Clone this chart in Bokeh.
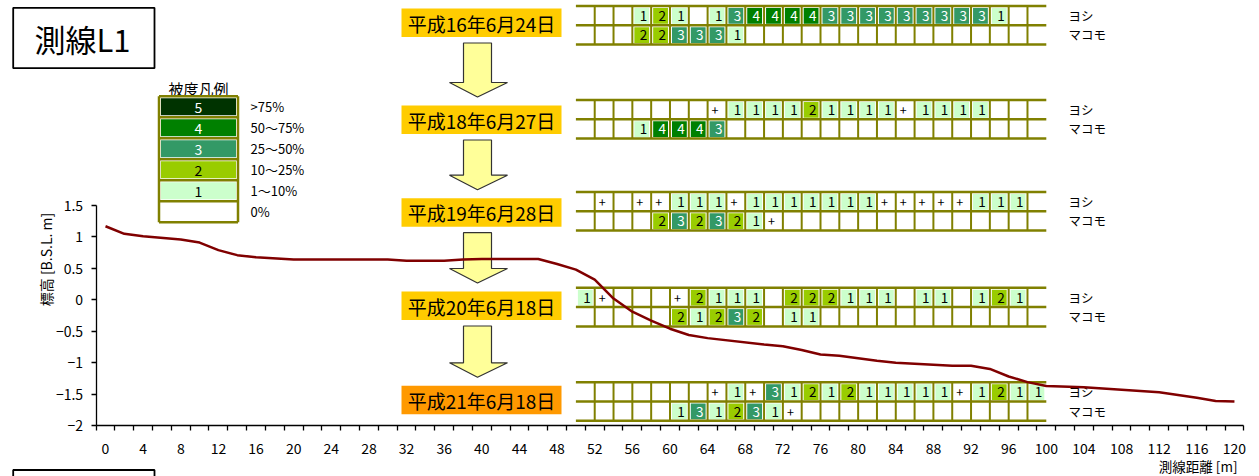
import math
from bokeh.plotting import figure
from bokeh.models import Range1d, LinearAxis, FixedTicker
from bokeh.core.properties import value
from bokeh.embed import file_html
from bokeh.resources import INLINE

# ---------------- data ----------------
# ground profile along survey line L1 (distance [m], elevation [B.S.L. m])
distance_m = [0, 2, 4, 8, 10, 12, 14, 16, 20, 30, 32, 36, 38, 40, 46, 48, 50, 52, 54, 56,
              58, 60, 62, 64, 70, 72, 74, 76, 78, 82, 84, 90, 92, 94, 96, 98, 100, 104, 108, 112,
              116, 118, 120]
elevation_m = [1.17, 1.05, 1.01, 0.96, 0.91, 0.79, 0.71, 0.675, 0.64, 0.64, 0.62, 0.62, 0.64, 0.65,
               0.65, 0.57, 0.48, 0.32, 0.02, -0.19, -0.33, -0.46, -0.56, -0.61, -0.71, -0.74, -0.80,
               -0.87, -0.89, -0.97, -1.0, -1.05, -1.05, -1.10, -1.22, -1.31, -1.37, -1.39, -1.43,
               -1.47, -1.56, -1.61, -1.62]

x_tick_values = list(range(0, 121, 4))
y_tick_values = [-2, -1.5, -1, -0.5, 0, 0.5, 1, 1.5]
y_tick_labels = ["−2", "−1.5", "−1", "−0.5", "0", "0.5", "1", "1.5"]

# vegetation cover class per 2 m cell, 50 m – 100 m ("+" = present, "" = absent)
survey_dates = ["平成16年6月24日", "平成18年6月27日", "平成19年6月28日", "平成20年6月18日", "平成21年6月18日"]
species = ["ヨシ", "マコモ"]

yoshi_h16 = ["", "", "", "1", "2", "1", "", "1", "3", "4", "4", "4", "4", "3", "3", "3", "3", "3",
             "3", "3", "3", "3", "1", "", ""]
makomo_h16 = ["", "", "", "2", "2", "3", "3", "3", "1", "", "", "", "", "", "", "", "", "",
              "", "", "", "", "", "", ""]
yoshi_h18 = ["", "", "", "", "", "", "", "+", "1", "1", "1", "1", "2", "1", "1", "1", "1", "+",
             "1", "1", "1", "1", "", "", ""]
makomo_h18 = ["", "", "", "1", "4", "4", "4", "3", "", "", "", "", "", "", "", "", "", "",
              "", "", "", "", "", "", ""]
yoshi_h19 = ["", "+", "", "+", "+", "1", "1", "1", "+", "1", "1", "1", "1", "1", "1", "1", "+", "+",
             "+", "+", "+", "1", "1", "1", ""]
makomo_h19 = ["", "", "", "", "2", "3", "2", "3", "2", "1", "+", "", "", "", "", "", "", "",
              "", "", "", "", "", "", ""]
yoshi_h20 = ["1", "+", "", "", "", "+", "2", "1", "1", "1", "", "2", "2", "2", "1", "1", "1", "",
             "1", "1", "", "1", "2", "1", ""]
makomo_h20 = ["", "", "", "", "", "2", "1", "2", "3", "2", "", "1", "1", "", "", "", "", "",
              "", "", "", "", "", "", ""]
yoshi_h21 = ["", "", "", "", "", "", "", "+", "1", "+", "3", "1", "2", "1", "2", "1", "1", "1",
             "1", "1", "+", "1", "2", "1", "1"]
makomo_h21 = ["", "", "", "", "", "1", "3", "1", "2", "3", "1", "+", "", "", "", "", "", "",
              "", "", "", "", "", "", ""]

yoshi_rows = [yoshi_h16, yoshi_h18, yoshi_h19, yoshi_h20, yoshi_h21]
makomo_rows = [makomo_h16, makomo_h18, makomo_h19, makomo_h20, makomo_h21]

legend_title = "被度凡例"
legend_classes = ["5", "4", "3", "2", "1", ""]
legend_ranges = [">75%", "50～75%", "25～50%", "10～25%", "1～10%", "0%"]

# ---------------- styles ----------------
FONT = "Noto Sans CJK JP"
cover_fill = {"5": "#003300", "4": "#008000", "3": "#339966", "2": "#99CC00",
              "1": "#CCFFCC", "+": "#FFFFFF", "": "#FFFFFF"}
cover_text = {"5": "white", "4": "white", "3": "white", "2": "black", "1": "black", "+": "black", "": "black"}
OLIVE = "#808000"
LINE_RED = "#800000"
DATE_FILL = ["#FFCC00", "#FFCC00", "#FFCC00", "#FFCC00", "#FF9900"]
ARROW_FILL = "#FFFF99"

# ---------------- canvas geometry ----------------
W, H = 1259, 476
PX_X0 = 105.0        # canvas x of 0 m
PX_PER_M = 9.408
PX_Y_TOP = 205.0     # canvas y of the top of the elevation axis
PX_PER_UNIT = 62.857
Y_TOP = 1.5

p = figure(width=W, height=H,
           x_range=Range1d(-PX_X0 / PX_PER_M, (W - PX_X0) / PX_PER_M),
           y_range=Range1d(Y_TOP - (H - PX_Y_TOP) / PX_PER_UNIT, Y_TOP + PX_Y_TOP / PX_PER_UNIT),
           x_axis_type=None, y_axis_type=None,
           toolbar_location=None, output_backend="svg",
           min_border=0, outline_line_color=None, background_fill_color="white")
p.extra_x_ranges = {"px": Range1d(0, W)}
p.extra_y_ranges = {"py": Range1d(H, 0)}


def text(x, y, s, size, color="black", align="left", baseline="middle", angle=0.0,
         xr="px", x_offset=0):
    p.text(x=x if isinstance(x, list) else [x], y=y if isinstance(y, list) else [y],
           text=s if isinstance(s, list) else [s],
           x_range_name=xr, y_range_name="py",
           text_font=value(FONT), text_font_size=value(f"{size}px"),
           text_color=color, text_align=align, text_baseline=baseline,
           angle=angle, x_offset=x_offset)


# ---------------- axes ----------------
boundaries = [d - 1 for d in range(0, 121, 2)] + [121]
xaxis = LinearAxis(fixed_location=-2,
                   ticker=FixedTicker(ticks=x_tick_values, minor_ticks=boundaries),
                   bounds=(-1, 121),
                   axis_line_color="black", axis_line_width=1.3,
                   major_tick_out=0, major_tick_in=0,
                   minor_tick_out=5, minor_tick_in=0,
                   minor_tick_line_color="black", minor_tick_line_width=1.3,
                   major_label_standoff=13,
                   major_label_text_font=FONT, major_label_text_font_size="14px",
                   major_label_text_color="black")
p.add_layout(xaxis, "below")

yaxis = LinearAxis(fixed_location=-1,
                   ticker=FixedTicker(ticks=y_tick_values, minor_ticks=[]),
                   bounds=(-2, 1.5),
                   axis_line_color="black", axis_line_width=1.3,
                   major_tick_out=5, major_tick_in=0,
                   major_tick_line_color="black", major_tick_line_width=1.3,
                   minor_tick_out=0, minor_tick_in=0,
                   major_label_standoff=8,
                   major_label_overrides={t: lab for t, lab in zip(y_tick_values, y_tick_labels)},
                   major_label_text_font=FONT, major_label_text_font_size="14px",
                   major_label_text_color="black")
p.add_layout(yaxis, "left")

text(45, 259, "標高 [B.S.L. m]", 14, align="center", angle=math.pi / 2)
text(1237, 465, "測線距離 [m]", 13.5, align="right")

# ---------------- title boxes ----------------
p.quad(left=[12.7], right=[154], top=[7.3], bottom=[67.7], x_range_name="px", y_range_name="py",
       fill_color="white", line_color="black", line_width=1.8)
text(82, 38, "測線L1", 31, align="center")
p.quad(left=[12.7], right=[154], top=[469.5], bottom=[495], x_range_name="px", y_range_name="py",
       fill_color="white", line_color="black", line_width=1.8)

# ---------------- legend ----------------
LEG_L, LEG_R, LEG_T, LEG_ROW = 158.5, 237.5, 95.7, 21.0
text((LEG_L + LEG_R) / 2, 87.5, legend_title, 15, align="center")
for i, cls in enumerate(legend_classes):
    t = LEG_T + i * LEG_ROW
    p.quad(left=[LEG_L + 2], right=[LEG_R - 2], top=[t + 2], bottom=[t + LEG_ROW - 2],
           x_range_name="px", y_range_name="py",
           fill_color=cover_fill[cls], line_color=None)
    if cls:
        text((LEG_L + LEG_R) / 2, t + LEG_ROW / 2 + 0.5, cls, 14, color=cover_text[cls], align="center")
    text(250, t + LEG_ROW / 2, legend_ranges[i], 13)
leg_y = [LEG_T + i * LEG_ROW for i in range(len(legend_classes) + 1)]
p.segment(x0=[LEG_L] * len(leg_y), x1=[LEG_R] * len(leg_y), y0=leg_y, y1=leg_y,
          x_range_name="px", y_range_name="py", line_color=OLIVE, line_width=2.5)
p.segment(x0=[LEG_L, LEG_R], x1=[LEG_L, LEG_R], y0=[leg_y[0], leg_y[0]], y1=[leg_y[-1], leg_y[-1]],
          x_range_name="px", y_range_name="py", line_color=OLIVE, line_width=2.5)

# ---------------- survey date boxes and arrows ----------------
BOX_L, BOX_R, BOX_H = 401, 561, 28.5
box_tops = [8, 105, 197.7, 291, 385.3]
for k, date in enumerate(survey_dates):
    t = box_tops[k]
    p.quad(left=[BOX_L], right=[BOX_R], top=[t], bottom=[t + BOX_H],
           x_range_name="px", y_range_name="py", fill_color=DATE_FILL[k], line_color=None)
    text((BOX_L + BOX_R) / 2, t + BOX_H / 2 + 0.5, date, 19, align="center")

SH_L, SH_R, HD_L, HD_R = 463, 491, 449, 507
for k in range(len(survey_dates) - 1):
    st = box_tops[k] + BOX_H + 6
    tip = box_tops[k + 1] - 8.5
    hs = tip - 14.5
    mid = (SH_L + SH_R) / 2
    p.patch(x=[SH_L, SH_R, SH_R, HD_R, mid, HD_L, SH_L],
            y=[st, st, hs, hs, tip, hs, hs],
            x_range_name="px", y_range_name="py",
            fill_color=ARROW_FILL, line_color="#333333", line_width=1.2)

# ---------------- vegetation cover grids ----------------
CELL0_M, CELL_M = 50, 2
grid_tops = [5.5, 99.5, 191.5, 287.3, 381.7]
ROW_H = 19.3
n_cells = len(yoshi_h16)
inset_m = 2.0 / PX_PER_M

for k in range(len(survey_dates)):
    top = grid_tops[k]
    for s, rows in enumerate([yoshi_rows, makomo_rows]):
        row = rows[k]
        rt = top + s * ROW_H
        lefts = [CELL0_M + CELL_M * i for i in range(n_cells)]
        p.quad(left=[l + inset_m for l in lefts], right=[l + CELL_M - inset_m for l in lefts],
               top=[rt + 2] * n_cells, bottom=[rt + ROW_H - 1.5] * n_cells,
               y_range_name="py", fill_color=[cover_fill[c] for c in row], line_color=None)
        num_idx = [i for i, c in enumerate(row) if c not in ("", "+")]
        if num_idx:
            text([lefts[i] + CELL_M for i in num_idx], [rt + ROW_H / 2 + 0.5] * len(num_idx),
                 [row[i] for i in num_idx], 13.5, color=[cover_text[row[i]] for i in num_idx],
                 align="right", xr="default", x_offset=-4)
        plus_idx = [i for i, c in enumerate(row) if c == "+"]
        if plus_idx:
            text([lefts[i] for i in plus_idx], [rt + ROW_H / 2 + 0.5] * len(plus_idx),
                 ["+"] * len(plus_idx), 12.5, align="left", xr="default", x_offset=4)
        text(1068, rt + ROW_H / 2, species[s], 12.5)
    ys = [top, top + ROW_H, top + 2 * ROW_H]
    p.segment(x0=[CELL0_M] * 3, x1=[CELL0_M + CELL_M * n_cells] * 3, y0=ys, y1=ys,
              y_range_name="py", line_color=OLIVE, line_width=2.5)
    vx = [CELL0_M + CELL_M * i for i in range(1, n_cells)]
    p.segment(x0=vx, x1=vx, y0=[top] * len(vx), y1=[top + 2 * ROW_H] * len(vx),
              y_range_name="py", line_color=OLIVE, line_width=2)

# ---------------- ground profile ----------------
p.line(distance_m, elevation_m, line_color=LINE_RED, line_width=2.5)

open("out.html", "w").write(file_html(p, INLINE))
